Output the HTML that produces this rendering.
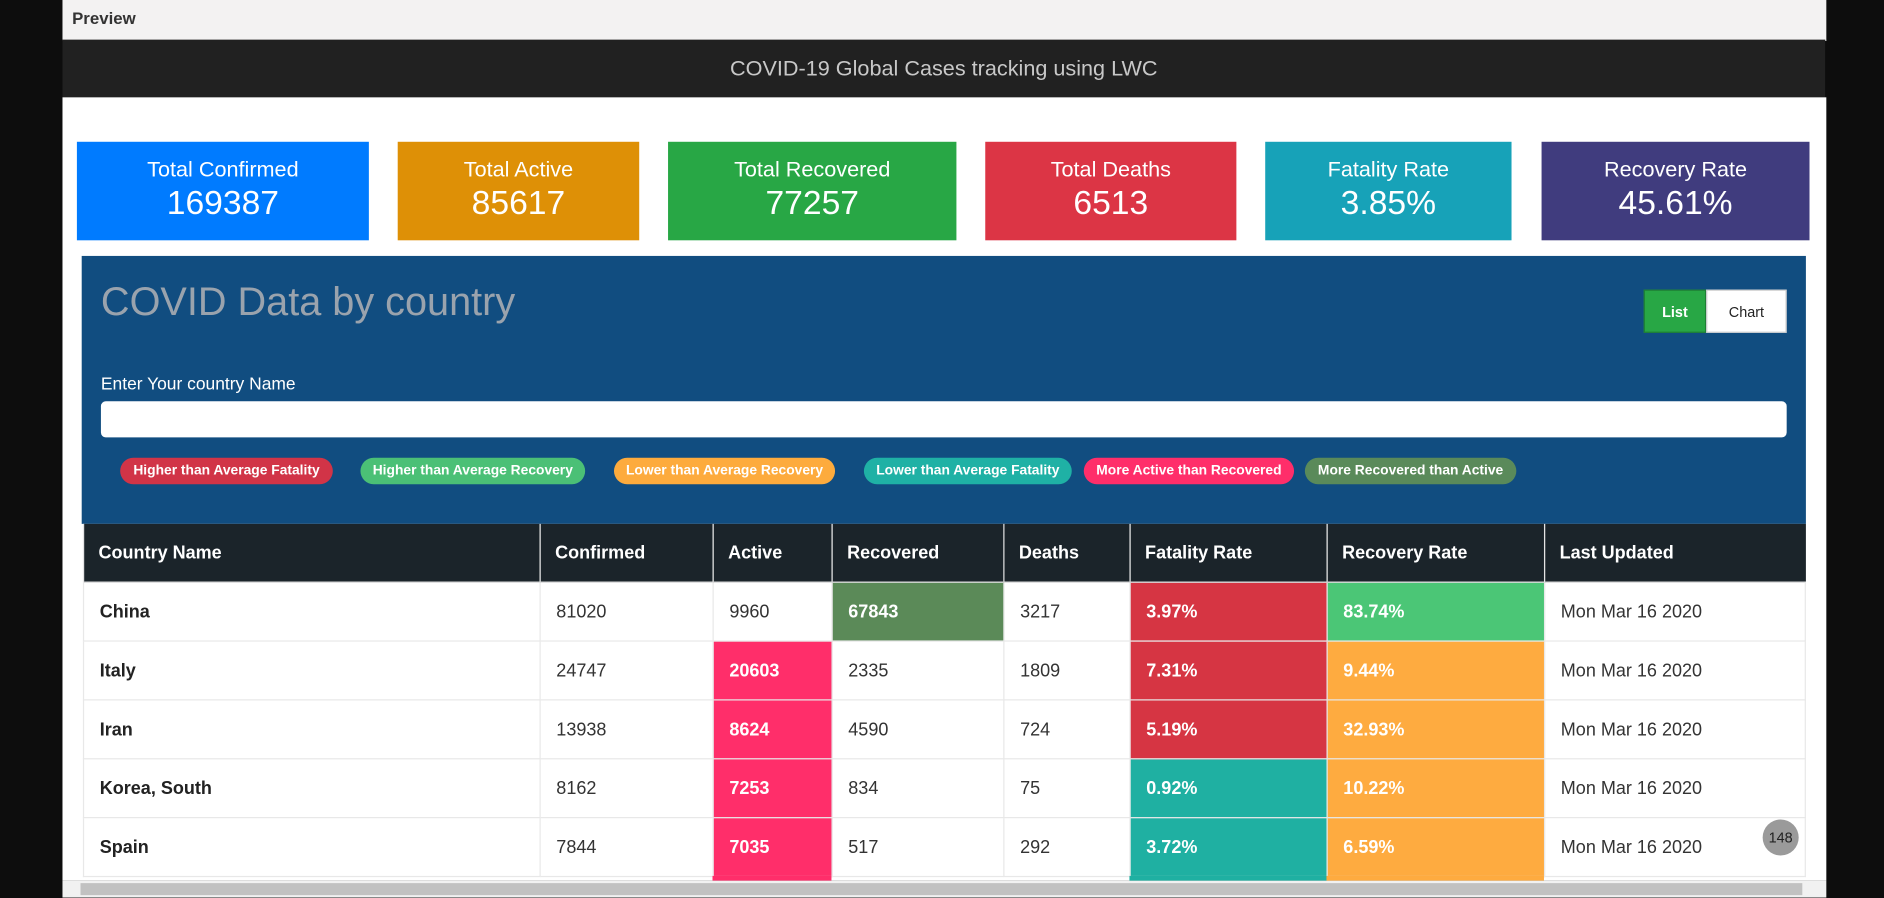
<!DOCTYPE html>
<html><head><meta charset="utf-8"><style>
html,body{margin:0;padding:0;width:1884px;height:897px;overflow:hidden;background:#0d0d0d;font-family:"Liberation Sans",sans-serif}
#root{position:absolute;left:0;top:0;width:1568px;height:747px;transform:scale(1.20153);transform-origin:0 0}
.abs{position:absolute}
.card{position:absolute;top:118px;height:82px;color:#fff;text-align:center}
.card .l{font-size:18px;margin-top:13px;font-weight:300}
.card .v{font-size:28px;margin-top:1px}
.badge{position:absolute;top:381px;height:22px;border-radius:11px;color:#fff;font-size:11.5px;font-weight:bold;line-height:22px;text-align:center;white-space:nowrap}
table{position:absolute;left:69px;top:436px;border-collapse:collapse;table-layout:fixed;width:1433px}
th{background:#1b242a;color:#fff;font-size:15px;text-align:left;height:48px;padding:0 12px;border-left:1px solid #e5e5e5}
td{height:48px;padding:0 13px;font-size:15px;color:#333;border:1px solid #e8e8e8;background:#fff}
td.c{color:#fff;font-weight:bold}
td:first-child{font-weight:bold;color:#222}
</style></head><body>
<div id="root">
<div class="abs" style="left:52px;top:0;width:1468px;height:33px;background:#f3f2f2;border-bottom:1px solid #ccc"><span style="position:absolute;left:8px;top:7px;font-size:14px;font-weight:bold;color:#333">Preview</span></div>
<div class="abs" style="left:52px;top:33px;width:1467px;height:48px;background:#212121;color:#c8c8c8;font-size:18px;text-align:center;line-height:48px">COVID-19 Global Cases tracking using LWC</div>
<div class="abs" style="left:52px;top:81px;width:1468px;height:652px;background:#fff"></div>
<div class="card" style="left:64px;width:243px;background:#007bff"><div class="l">Total Confirmed</div><div class="v">169387</div></div>
<div class="card" style="left:331px;width:201px;background:#de9006"><div class="l">Total Active</div><div class="v">85617</div></div>
<div class="card" style="left:556px;width:240px;background:#28a745"><div class="l">Total Recovered</div><div class="v">77257</div></div>
<div class="card" style="left:820px;width:209px;background:#dc3545"><div class="l">Total Deaths</div><div class="v">6513</div></div>
<div class="card" style="left:1053px;width:205px;background:#17a2b8"><div class="l">Fatality Rate</div><div class="v">3.85%</div></div>
<div class="card" style="left:1283px;width:223px;background:#403c7e"><div class="l">Recovery Rate</div><div class="v">45.61%</div></div>
<div class="abs" style="left:68px;top:213px;width:1435px;height:223px;background:#114d80"></div>
<div class="abs" style="left:84px;top:232px;font-size:33px;color:#9aa3ad">COVID Data by country</div>
<div class="abs" style="left:1368px;top:241px;width:52px;height:36px;background:#28a745;color:#fff;font-size:12px;font-weight:bold;text-align:center;line-height:36px;border:1px solid #1e7e34;box-sizing:border-box">List</div>
<div class="abs" style="left:1420px;top:241px;width:67px;height:36px;background:#fff;color:#222;font-size:12px;text-align:center;line-height:36px;border:1px solid #ccc;box-sizing:border-box">Chart</div>
<div class="abs" style="left:84px;top:312px;font-size:14.5px;color:#fff">Enter Your country Name</div>
<div class="abs" style="left:84px;top:334px;width:1403px;height:30px;background:#fff;border-radius:4px"></div>
<div class="badge" style="left:100px;width:177px;background:#d13447">Higher than Average Fatality</div>
<div class="badge" style="left:300px;width:187px;background:#4bc076">Higher than Average Recovery</div>
<div class="badge" style="left:511px;width:184px;background:#fdab3d">Lower than Average Recovery</div>
<div class="badge" style="left:719px;width:173px;background:#1fb1a5">Lower than Average Fatality</div>
<div class="badge" style="left:902px;width:175px;background:#ff2e6a">More Active than Recovered</div>
<div class="badge" style="left:1086px;width:176px;background:#5a8a5a">More Recovered than Active</div>
<table id="tbl">
<colgroup><col style="width:380px"><col style="width:144px"><col style="width:99px"><col style="width:143px"><col style="width:105px"><col style="width:164px"><col style="width:181px"><col style="width:217px"></colgroup>
<thead><tr><th>Country Name</th><th>Confirmed</th><th>Active</th><th>Recovered</th><th>Deaths</th><th>Fatality Rate</th><th>Recovery Rate</th><th>Last Updated</th></tr></thead>
<tbody id="tb"></tbody></table>
<div class="abs" style="left:593px;top:729px;width:99px;height:4px;background:#ff2e6a"></div>
<div class="abs" style="left:940px;top:729px;width:164px;height:4px;background:#1fb0a2"></div>
<div class="abs" style="left:1104px;top:729px;width:181px;height:4px;background:#feab40"></div>
<div class="abs" style="left:52px;top:733px;width:1468px;height:14px;background:#f1f1f1"><div style="position:absolute;left:15px;top:2px;width:1433px;height:10px;background:#c1c1c1"></div></div>
<div class="abs" style="left:1467px;top:682px;width:30px;height:30px;border-radius:50%;background:#9a9a9a;color:#222;font-size:12px;text-align:center;line-height:30px">148</div>
</div>
<script>
const countries=["China","Italy","Iran","Korea, South","Spain"];
const confirmed=[81020,24747,13938,8162,7844];
const active=[9960,20603,8624,7253,7035];
const recovered=[67843,2335,4590,834,517];
const deaths=[3217,1809,724,75,292];
const fatality=["3.97%","7.31%","5.19%","0.92%","3.72%"];
const recovery=["83.74%","9.44%","32.93%","10.22%","6.59%"];
const updated=["Mon Mar 16 2020","Mon Mar 16 2020","Mon Mar 16 2020","Mon Mar 16 2020","Mon Mar 16 2020"];
const avgF=3.85, avgR=45.61;
const tb=document.getElementById('tb');
for(let i=0;i<countries.length;i++){
  const tr=document.createElement('tr');
  
  
  const f=parseFloat(fatality[i]), r=parseFloat(recovery[i]);
  const cells=[
    [countries[i],null],[confirmed[i],null],
    [active[i],active[i]>recovered[i]?'#ff2e6a':null],
    [recovered[i],recovered[i]>active[i]?'#5b8a58':null],
    [deaths[i],null],
    [fatality[i],f>avgF?'#d63543':'#1fb0a2'],
    [recovery[i],r>avgR?'#4bc676':'#feab40'],
    [updated[i],null]];
  for(const [v,c] of cells){
    const td=document.createElement('td');
    
    
    td.textContent=v;
    if(c){td.style.background=c;td.className='c';}
    tr.appendChild(td);
  }
  tb.appendChild(tr);
}
</script>
</body></html>
